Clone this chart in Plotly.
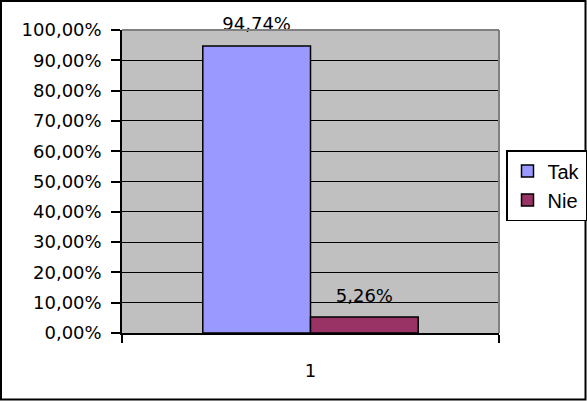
import plotly.graph_objects as go

categories = ["1"]
series_names = ["Tak", "Nie"]
tak_values = [0.9474]
nie_values = [0.0526]
y_tickvals = [0, 0.1, 0.2, 0.3, 0.4, 0.5, 0.6, 0.7, 0.8, 0.9, 1.0]

colors = {"Tak": "#9999FF", "Nie": "#993366"}
W, H = 587, 401
ML, MR, MT, MB = 122, 88, 30, 68
FONT = "DejaVu Sans"

xpos = list(range(len(categories)))

fig = go.Figure()
for name, vals in zip(series_names, [tak_values, nie_values]):
    fig.add_trace(go.Bar(
        x=xpos, y=vals, name=name, offsetgroup=name,
        marker=dict(color=colors[name], line=dict(color="black", width=1.5)),
        hoverinfo="skip",
    ))
for name, vals in zip(series_names, [tak_values, nie_values]):
    fig.add_trace(go.Scatter(
        x=xpos, y=vals, name=name, offsetgroup=name, showlegend=False,
        mode="markers+text", texttemplate="%{y:.2%}", textposition="top center",
        marker=dict(size=16, opacity=0),
        textfont=dict(family=FONT, size=18, color="black"),
        cliponaxis=False, hoverinfo="skip",
    ))

pw = W - ML - MR
ph = H - MT - MB

fig.update_layout(
    width=W, height=H,
    margin=dict(l=ML, r=MR, t=MT, b=MB, pad=0, autoexpand=False),
    paper_bgcolor="white", plot_bgcolor="#C0C0C0",
    barmode="group", bargap=0.4286, bargroupgap=0,
    scattermode="group", scattergap=0.4286,
    separators=", ",
    font=dict(family=FONT, size=18, color="black"),
    showlegend=True,
    legend=dict(
        x=(506 - ML) / pw, y=(H - MB - 150) / ph, xanchor="left", yanchor="top",
        bordercolor="black", borderwidth=1.5, bgcolor="white",
        font=dict(family="Liberation Sans", size=20, color="black"),
        itemwidth=30, tracegroupgap=0,
    ),
    xaxis=dict(
        range=[-0.5, len(categories) - 0.5],
        tickvals=xpos, ticktext=categories,
        ticks="outside", ticklen=21, tickcolor="rgba(0,0,0,0)",
        showgrid=False, zeroline=False,
        showline=True, linecolor="black", linewidth=1.5,
        tickfont=dict(family=FONT, size=18),
        minor=dict(tickmode="array", tickvals=[-0.5, len(categories) - 0.5],
                   ticks="outside", ticklen=8, tickwidth=1.5, tickcolor="black",
                   showgrid=False),
        fixedrange=True,
    ),
    yaxis=dict(
        range=[0, 1], tickvals=y_tickvals, tickformat=".2%",
        ticks="outside", ticklen=9, tickwidth=1.5, tickcolor="black",
        ticklabelstandoff=6,
        showgrid=True, gridcolor="black", gridwidth=1.2,
        zeroline=False,
        showline=True, linecolor="black", linewidth=1.5,
        tickfont=dict(family=FONT, size=18),
        fixedrange=True,
    ),
    shapes=[
        dict(type="line", xref="paper", yref="paper", x0=0, x1=1, y0=1, y1=1,
             line=dict(color="#808080", width=2), layer="above"),
        dict(type="line", xref="paper", yref="paper", x0=1, x1=1, y0=0, y1=1,
             line=dict(color="#808080", width=2), layer="above"),
        dict(type="rect", xref="paper", yref="paper",
             x0=(-ML + 1) / pw, x1=(pw + MR - 1.5) / pw,
             y0=(-MB + 1.5) / ph, y1=(ph + MT - 1) / ph,
             line=dict(color="black", width=2), fillcolor="rgba(0,0,0,0)", layer="above"),
    ],
)

fig.write_html(
    "out.html",
    config={"displayModeBar": False},
    post_script="document.body.style.margin='0';document.body.style.overflow='hidden';",
)
